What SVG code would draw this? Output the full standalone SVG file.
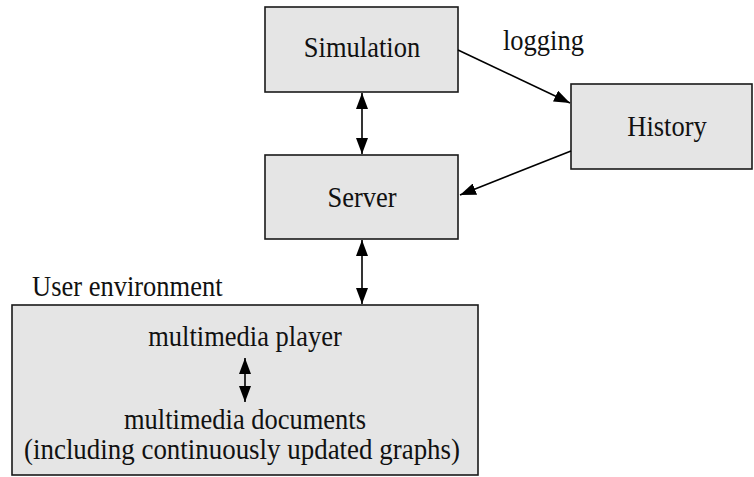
<svg xmlns="http://www.w3.org/2000/svg" width="754" height="477" viewBox="0 0 754 477">
<style>
.box{fill:#e5e5e5;stroke:#1a1a1a;stroke-width:1.6}
.t{font-family:"Liberation Serif","Times New Roman",serif;font-size:26.5px;fill:#111}
.c{text-anchor:middle}
.e{stroke:#000;stroke-width:1.6;fill:none}
</style>
<defs>
<marker id="ah" viewBox="0 0 16 12" refX="16" refY="6" markerWidth="16" markerHeight="12" markerUnits="userSpaceOnUse" orient="auto-start-reverse">
<path d="M0,0 L16,6 L0,12 z" fill="#000"/>
</marker>
</defs>
<rect width="754" height="477" fill="#fff"/>
<g id="simulation">
<rect class="box" x="265" y="7" width="193" height="85"/>
<text class="t c" transform="translate(362 57) scale(1 1.12)">Simulation</text>
</g>
<g id="server">
<rect class="box" x="265" y="155" width="193" height="84"/>
<text class="t c" transform="translate(362 207) scale(1 1.12)">Server</text>
</g>
<g id="history">
<rect class="box" x="571" y="84" width="181" height="85"/>
<text class="t c" transform="translate(667 136) scale(1 1.12)">History</text>
</g>
<g id="user-environment">
<text class="t" transform="translate(32 296) scale(1 1.12)">User environment</text>
<rect class="box" x="12" y="305" width="466" height="170"/>
<text class="t c" transform="translate(245 346) scale(1 1.12)">multimedia player</text>
<text class="t c" transform="translate(245 429) scale(1 1.12)">multimedia documents</text>
<text class="t c" transform="translate(242 459) scale(1 1.12)" textLength="436" lengthAdjust="spacingAndGlyphs">(including continuously updated graphs)</text>
</g>
<g id="connectors">
<line class="e" x1="362" y1="93" x2="362" y2="154" marker-start="url(#ah)" marker-end="url(#ah)"/>
<line class="e" x1="362" y1="240" x2="362" y2="304" marker-start="url(#ah)" marker-end="url(#ah)"/>
<line class="e" x1="245" y1="358" x2="245" y2="402" marker-start="url(#ah)" marker-end="url(#ah)"/>
<line class="e" x1="458" y1="50" x2="570" y2="103" marker-end="url(#ah)"/>
<line class="e" x1="571" y1="151" x2="460" y2="195" marker-end="url(#ah)"/>
<text class="t" transform="translate(503 50) scale(1 1.12)">logging</text>
</g>
</svg>
